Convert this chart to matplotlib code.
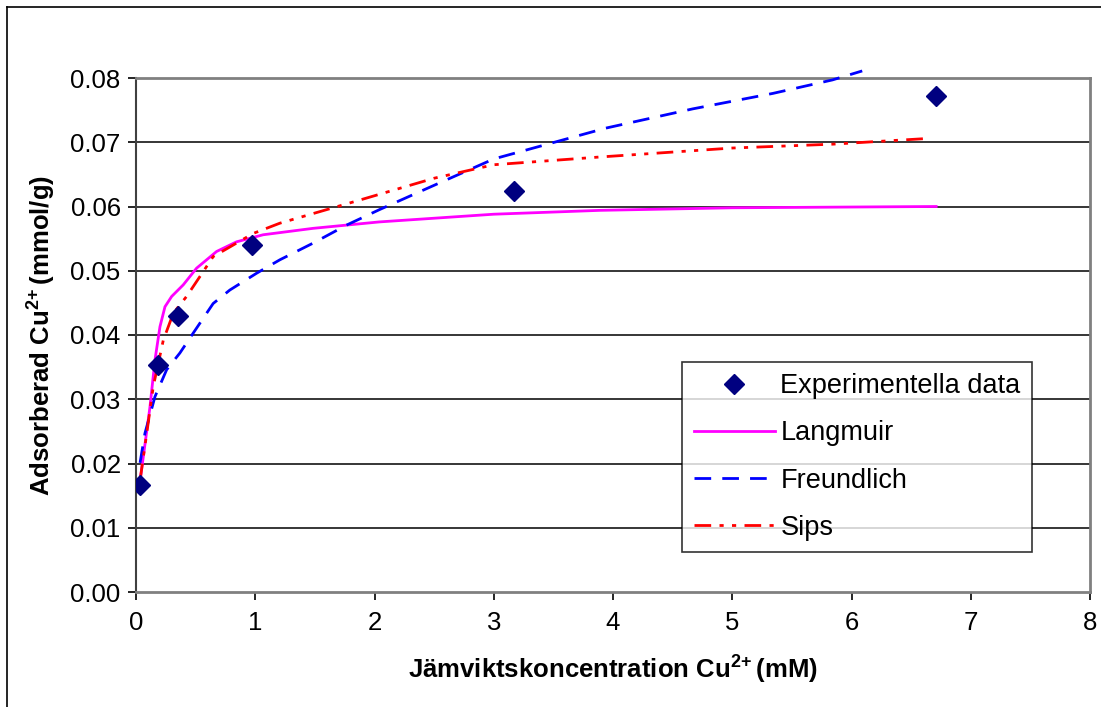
import matplotlib.pyplot as plt
from matplotlib.lines import Line2D

plt.rcParams['font.family'] = ['Liberation Sans', 'DejaVu Sans']
plt.rcParams['mathtext.fontset'] = 'custom'
plt.rcParams['mathtext.rm'] = 'Liberation Sans'
plt.rcParams['mathtext.bf'] = 'Liberation Sans:bold'

# Experimental data
exp_x = [0.034, 0.184, 0.352, 0.97, 3.166, 6.71]
exp_y = [0.0167, 0.0353, 0.0430, 0.0540, 0.0624, 0.0772]

# Model curves
lang_x = [0.03, 0.117, 0.159, 0.201, 0.243, 0.299, 0.396, 0.508, 0.676, 0.843,
          1.066, 1.485, 2.04, 3.0, 3.89, 5.0, 6.71]
lang_y = [0.0167, 0.0288, 0.0361, 0.0413, 0.0444, 0.0460, 0.0478, 0.0504, 0.0530, 0.0545,
          0.0556, 0.0566, 0.0576, 0.0588, 0.0594, 0.0598, 0.0600]

freu_x = [0.034, 0.075, 0.159, 0.257, 0.368, 0.48, 0.647, 0.787, 1.01, 1.206,
          1.485, 1.765, 2.04, 2.5, 3.0, 3.94, 4.67, 5.34, 5.84, 6.09]
freu_y = [0.0201, 0.0247, 0.0304, 0.0346, 0.0372, 0.0403, 0.0449, 0.0470, 0.0496, 0.0517,
          0.0543, 0.0571, 0.0595, 0.0633, 0.0674, 0.0722, 0.0752, 0.0776, 0.0797, 0.0811]

sips_x = [0.034, 0.09, 0.145, 0.229, 0.313, 0.424, 0.536, 0.647, 0.787, 0.982,
          1.206, 1.485, 1.876, 2.5, 3.0, 3.886, 5.0, 5.84, 6.65]
sips_y = [0.0174, 0.0247, 0.0320, 0.0392, 0.0434, 0.0460, 0.0491, 0.0522, 0.0537, 0.0558,
          0.0574, 0.0589, 0.0610, 0.0644, 0.0665, 0.0677, 0.0691, 0.0697, 0.0706]

x_ticks = [0, 1, 2, 3, 4, 5, 6, 7, 8]
y_ticks = [0.00, 0.01, 0.02, 0.03, 0.04, 0.05, 0.06, 0.07, 0.08]

fig = plt.figure(figsize=(11.01, 7.07), dpi=100)
ax = fig.add_axes([136 / 1101, 1 - 592 / 707, (1090 - 136) / 1101, (592 - 78) / 707])

# outer chart border (left + top visible)
fig.add_artist(Line2D([7 / 1101, 7 / 1101], [0, 1 - 7 / 707], color='black', lw=1.2,
                      transform=fig.transFigure))
fig.add_artist(Line2D([7 / 1101, 1], [1 - 7 / 707, 1 - 7 / 707], color='black', lw=1.2,
                      transform=fig.transFigure))

for yv in y_ticks[1:-1]:
    ax.axhline(yv, color='black', lw=1.1, zorder=1)

ax.plot(lang_x, lang_y, color='#FF00FF', lw=2, zorder=3, label='Langmuir')
ax.plot(freu_x, freu_y, color='#0000FF', lw=2, dashes=(6, 4), zorder=3, label='Freundlich',
        clip_on=False)
ax.plot(sips_x, sips_y, color='#FF0000', lw=2, dashes=(6, 3, 1.5, 3, 1.5, 3), zorder=3,
        label='Sips')
ax.plot(exp_x, exp_y, linestyle='none', marker='D', markersize=10, color='#000080',
        zorder=4, label='Experimentella data')

ax.set_xlim(0, 8)
ax.set_ylim(0, 0.08)
ax.set_xticks(x_ticks)
ax.set_yticks(y_ticks)
ax.set_xticklabels([str(v) for v in x_ticks])
ax.set_yticklabels([f"{v:.2f}" for v in y_ticks])
ax.tick_params(axis='both', direction='out', length=6, width=1.2, labelsize=18.5,
               color='black')
ax.tick_params(axis='x', pad=8)
ax.tick_params(axis='y', pad=5)

for side in ['top', 'right', 'bottom']:
    ax.spines[side].set_color('#808080')
    ax.spines[side].set_linewidth(2)
ax.spines['left'].set_color('#404040')
ax.spines['left'].set_linewidth(1.5)

ax.set_xlabel(r'Jämviktskoncentration Cu$^{\mathbf{2\!+}}$(mM)', fontsize=18.5,
              fontweight='bold', labelpad=12)
ax.set_ylabel(r'Adsorberad Cu$^{\mathbf{2\!+}}$(mmol/g)', fontsize=18.5,
              fontweight='bold', labelpad=10)

handles, labels = ax.get_legend_handles_labels()
order = [3, 0, 1, 2]
leg = ax.legend([handles[i] for i in order], [labels[i] for i in order],
                loc='lower right', bbox_to_anchor=((1032 - 136) / 954, (592 - 552) / 514),
                fontsize=19.5, frameon=True, fancybox=False, edgecolor='black',
                handlelength=3.0, labelspacing=0.78, borderpad=0.42, handletextpad=0.2,
                borderaxespad=0)
leg.get_frame().set_linewidth(1.2)

fig.savefig('out.png', dpi=100)
